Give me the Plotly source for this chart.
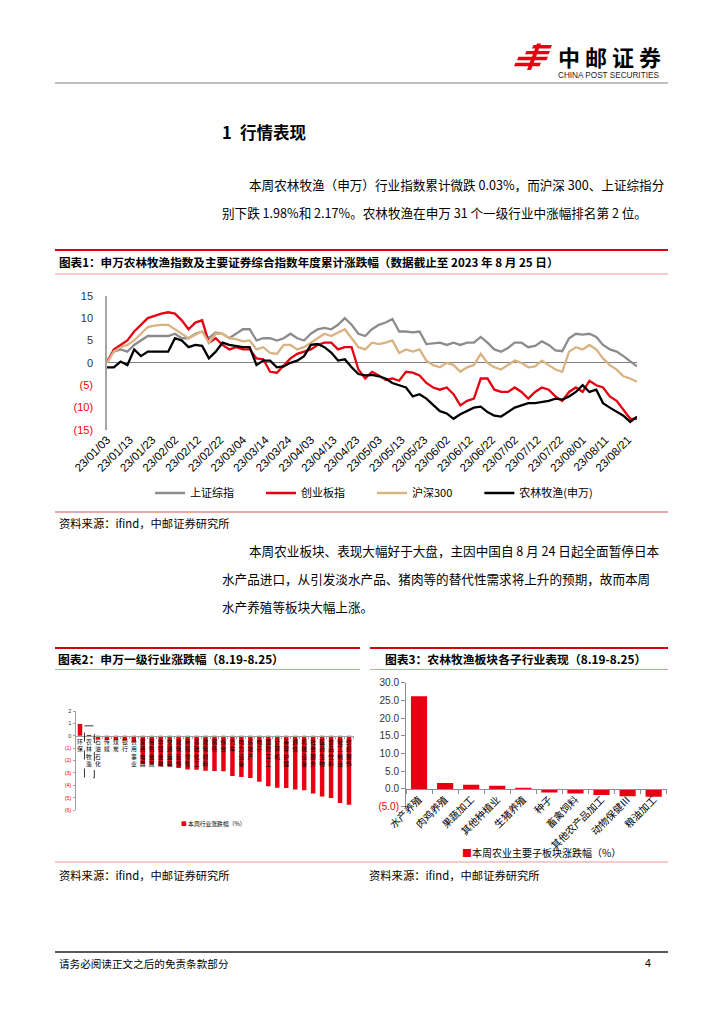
import plotly.graph_objects as go

W, H = 724, 1024
CJK = "Noto Sans CJK SC"
ARIAL = "Liberation Sans"
RED = "#e60012"
NEG = "#ff0000"

# ---------------- Chart 1 data: YTD cumulative change (%) ----------------
dates = [
    "2023-01-03", "2023-01-06", "2023-01-09", "2023-01-12", "2023-01-15", "2023-01-18", "2023-01-21", "2023-01-24", "2023-01-27", "2023-01-30",
    "2023-02-02", "2023-02-05", "2023-02-08", "2023-02-11", "2023-02-14", "2023-02-17", "2023-02-20", "2023-02-23", "2023-02-26",
    "2023-03-01", "2023-03-04", "2023-03-07", "2023-03-10", "2023-03-13", "2023-03-16", "2023-03-19", "2023-03-22", "2023-03-25", "2023-03-28", "2023-03-31",
    "2023-04-03", "2023-04-06", "2023-04-09", "2023-04-12", "2023-04-15", "2023-04-18", "2023-04-21", "2023-04-24", "2023-04-27", "2023-04-30",
    "2023-05-03", "2023-05-06", "2023-05-09", "2023-05-12", "2023-05-15", "2023-05-18", "2023-05-21", "2023-05-24", "2023-05-27", "2023-05-30",
    "2023-06-02", "2023-06-05", "2023-06-08", "2023-06-11", "2023-06-14", "2023-06-17", "2023-06-20", "2023-06-23", "2023-06-26", "2023-06-29",
    "2023-07-02", "2023-07-05", "2023-07-08", "2023-07-11", "2023-07-14", "2023-07-17", "2023-07-20", "2023-07-23", "2023-07-26", "2023-07-29",
    "2023-08-01", "2023-08-04", "2023-08-07", "2023-08-10", "2023-08-13", "2023-08-16", "2023-08-19", "2023-08-22", "2023-08-25",
]
sse = [
    0.5, 2.5, 3.0, 2.5, 4.0, 5.0, 6.0, 6.0, 6.0, 6.0,
    6.5, 5.5, 5.5, 6.5, 7.0, 5.5, 6.8, 6.5, 5.5,
    6.5, 7.5, 7.5, 5.0, 5.5, 5.5, 5.0, 5.5, 6.5, 5.5, 5.0,
    6.5, 7.5, 7.8, 7.5, 8.5, 10.0, 8.5, 6.5, 6.0, 7.5,
    8.5, 9.0, 9.8, 7.0, 7.0, 6.8, 7.0, 4.2, 4.3, 4.5,
    4.0, 4.5, 4.0, 4.5, 4.5, 5.8, 4.5, 3.0, 2.5, 3.3,
    4.5, 4.5, 3.5, 3.8, 4.8, 4.0, 2.8, 2.6, 5.5, 6.5,
    6.3, 6.5, 5.8, 4.0, 3.0, 2.5, 1.5, 0.3, -0.8,
]
chinext = [
    0.0, 3.0, 4.0, 5.0, 7.0, 8.5, 10.0, 10.5, 11.0, 11.3,
    11.0, 9.5, 7.5, 9.0, 9.5, 4.5, 5.5, 4.0, 3.0,
    3.5, 3.0, 3.0, 1.0, 0.8, -2.0, -2.2, -0.5, 1.0, 2.0, 2.5,
    3.0, 4.0, 4.5, 4.5, 3.0, 3.5, 3.5, -1.5, -3.5, -2.0,
    -2.8, -3.8, -3.5, -4.0, -2.0, -2.2, -2.8, -4.5, -5.5, -6.0,
    -5.5, -7.0, -9.5, -8.5, -8.0, -3.5, -3.5, -6.0, -6.5, -6.5,
    -5.5, -6.5, -8.0, -6.5, -5.5, -6.0, -7.5, -8.5, -6.5, -5.5,
    -6.5, -4.0, -5.0, -5.5, -7.5, -8.5, -10.5, -12.5, -12.5,
]
hs300 = [
    0.0, 2.5, 3.5, 4.0, 5.0, 6.5, 8.0, 8.3, 8.5, 8.5,
    7.5, 6.5, 5.5, 6.3, 7.0, 4.5, 6.5, 6.5, 5.5,
    5.3, 4.8, 5.0, 3.0, 3.5, 2.2, 2.0, 4.0, 4.0, 3.0, 3.5,
    4.5, 5.5, 6.5, 6.0, 6.8, 7.5, 5.5, 3.5, 3.0, 4.5,
    4.2, 4.5, 5.0, 2.2, 3.0, 2.5, 3.0, 0.5, -0.5, -1.0,
    0.0, -0.5, -2.0, -1.0, -0.5, 2.0, 0.0, -1.0, -1.5, -0.5,
    0.5, 0.0, -1.0, -0.8, 0.5, -0.5, -1.5, -2.0, 2.5, 3.5,
    3.0, 4.0, 3.0, 1.0, -0.5, -1.5, -3.0, -3.5, -4.2,
]
agri = [
    -1.0, -1.0, 0.3, -0.5, 3.0, 1.5, 2.5, 2.5, 2.5, 2.5,
    5.5, 5.0, 3.5, 4.0, 3.8, 1.0, 2.5, 4.5, 4.0,
    3.8, 3.5, 3.5, -0.5, 0.5, 0.5, -1.0, -0.8, 0.0, 0.5, 1.5,
    4.0, 4.2, 3.5, 2.3, 0.5, 0.8, -1.0, -2.5, -2.8, -2.7,
    -3.0, -3.5, -4.5, -5.0, -5.5, -7.5, -7.0, -8.0, -9.5, -10.8,
    -11.3, -12.5, -11.5, -10.8, -10.0, -9.8, -11.0, -11.8, -12.0, -11.0,
    -10.0, -9.5, -9.0, -9.0, -8.8, -8.5, -8.0, -8.2, -7.5, -6.5,
    -5.0, -6.5, -6.0, -9.0, -10.0, -11.0, -11.8, -13.2, -12.0,
]
tick_dates = [
    "2023-01-03", "2023-01-13", "2023-01-23", "2023-02-02", "2023-02-12", "2023-02-22",
    "2023-03-04", "2023-03-14", "2023-03-24", "2023-04-03", "2023-04-13", "2023-04-23",
    "2023-05-03", "2023-05-13", "2023-05-23", "2023-06-02", "2023-06-12", "2023-06-22",
    "2023-07-02", "2023-07-12", "2023-07-22", "2023-08-01", "2023-08-11", "2023-08-21",
]
tick_labels = [d[2:4] + "/" + d[5:7] + "/" + d[8:10] for d in tick_dates]
series_names = ["上证综指", "创业板指", "沪深300", "农林牧渔(申万)"]
series_colors = ["#8c8c8c", RED, "#d9b382", "#000000"]
y1_ticks = [15, 10, 5, 0, -5, -10, -15]

# ---------------- Chart 2 data: SW level-1 industries (%) ----------------
industries = [
    "环保", "农林牧渔", "石油石化", "传媒", "煤炭", "银行", "公用事业", "家用电器",
    "有色金属", "非银金融", "交通运输", "建筑装饰", "商贸零售", "基础化工", "建筑材料",
    "钢铁", "综合", "汽车", "电力设备", "房地产", "电子", "国防军工", "计算机",
    "美容护理", "通信", "机械设备", "社会服务", "医药生物", "食品饮料", "轻工制造", "纺织服饰",
]
ind_chg = [
    0.95, -0.03, -0.27, -0.35, -0.35, -0.37, -0.55, -2.30,
    -2.32, -2.45, -2.48, -2.60, -2.72, -2.75, -2.83,
    -2.85, -2.87, -3.26, -3.34, -3.42, -3.72, -4.08, -4.20,
    -4.22, -4.35, -4.40, -4.67, -4.90, -5.03, -5.43, -5.57,
]
y2_ticks = [2, 1, 0, -1, -2, -3, -4, -5, -6]

# ---------------- Chart 3 data: agriculture sub-industries (%) ----------------
subs = ["水产养殖", "肉鸡养殖", "果蔬加工", "其他种植业", "生猪养殖",
        "种子", "畜禽饲料", "其他农产品加工", "动物保健Ⅲ", "粮油加工"]
sub_chg = [26.2, 1.7, 1.2, 0.9, 0.3, -1.0, -1.3, -1.7, -2.1, -2.2]
y3_ticks = [30, 25, 20, 15, 10, 5, 0, -5]


def px(x):
    return x / W


def py(y):
    return 1 - y / H


def acct(v, fmt):
    s = format(abs(v), fmt)
    if v < 0:
        return "<span style='color:%s'>(%s)</span>" % (NEG, s)
    return s


fig = go.Figure()

legend_pad = ["\u3000\u3000", "\u3000\u3000", "\u3000\u3000", ""]
for name, vals, color, pad in zip(series_names, [sse, chinext, hs300, agri], series_colors, legend_pad):
    fig.add_trace(go.Scatter(x=dates, y=vals, name=name + pad, mode="lines",
                             line=dict(color=color, width=2.3),
                             xaxis="x", yaxis="y"))

fig.add_trace(go.Bar(x=industries, y=ind_chg, marker=dict(color=RED, line=dict(width=0)),
                     width=0.5, xaxis="x2", yaxis="y2", showlegend=False))
fig.add_trace(go.Bar(x=subs, y=sub_chg, marker=dict(color=RED, line=dict(width=0)),
                     width=0.62, xaxis="x3", yaxis="y3", showlegend=False))

# axis domains (pixel based)
y1_dom = [py(430), py(295.7)]
y2_dom = [py(810), py(711)]
y3_dom = [py(806.6), py(682.7)]
y2_rng = [-6, 2]
y3_rng = [-5, 30]
zero2 = y2_dom[0] + (0 - y2_rng[0]) / (y2_rng[1] - y2_rng[0]) * (y2_dom[1] - y2_dom[0])
zero3 = y3_dom[0] + (0 - y3_rng[0]) / (y3_rng[1] - y3_rng[0]) * (y3_dom[1] - y3_dom[0])

fig.update_layout(
    width=W, height=H, margin=dict(l=0, r=0, t=0, b=0, pad=0, autoexpand=False),
    paper_bgcolor="white", plot_bgcolor="rgba(0,0,0,0)",
    font=dict(family=CJK, color="#000"),
    bargap=0.4,
    xaxis=dict(domain=[px(107), px(637)], anchor="y", type="date", automargin=False,
               range=["2023-01-03", "2023-08-25"], tickmode="array",
               tickvals=tick_dates, ticktext=tick_labels, tickangle=-45,
               tickfont=dict(size=11.5, family=ARIAL, color="#000"),
               showgrid=False, zeroline=False, showline=False, ticks=""),
    yaxis=dict(domain=y1_dom, anchor="x", range=[-15, 15], tickmode="array", automargin=False,
               tickvals=y1_ticks, ticktext=[acct(v, "g") for v in y1_ticks],
               tickfont=dict(size=11, family=ARIAL, color="#333"),
               showgrid=False, zeroline=True, zerolinecolor="#808080", zerolinewidth=1,
               showline=True, linecolor="#a6a6a6", linewidth=1.5, ticks="",
               ticklabelstandoff=10),
    xaxis2=dict(domain=[px(75.5), px(353.5)], anchor="free", position=zero2, automargin=False,
                tickmode="array", tickvals=industries,
                ticktext=["<br>".join(list(n)) for n in industries],
                tickangle=0, tickfont=dict(size=5.8, family=CJK, color="#000"),
                showline=True, linecolor="#a0a0a0", linewidth=1,
                ticks="outside", ticklen=2, tickcolor="#a0a0a0", tickson="boundaries",
                showgrid=False, zeroline=False),
    yaxis2=dict(domain=y2_dom, anchor="x2", range=y2_rng, tickmode="array", automargin=False,
                tickvals=y2_ticks, ticktext=[acct(v, "g") for v in y2_ticks],
                tickfont=dict(size=5.5, family=ARIAL, color="#333"),
                showline=True, linecolor="#a0a0a0", linewidth=1,
                ticks="outside", ticklen=2, tickcolor="#a0a0a0",
                showgrid=False, zeroline=False),
    xaxis3=dict(domain=[px(406), px(666.7)], anchor="free", position=zero3, automargin=False,
                tickangle=-45, tickfont=dict(size=10, family=CJK, color="#000"),
                showline=True, linecolor="#8c8c8c", linewidth=1,
                ticks="outside", ticklen=4, tickcolor="#8c8c8c", tickson="boundaries",
                showgrid=False, zeroline=False),
    yaxis3=dict(domain=y3_dom, anchor="x3", range=y3_rng, tickmode="array", automargin=False,
                tickvals=y3_ticks, ticktext=[acct(v, ".1f") for v in y3_ticks],
                tickfont=dict(size=10, family=ARIAL, color="#333"),
                showline=True, linecolor="#8c8c8c", linewidth=1,
                ticks="outside", ticklen=4, tickcolor="#8c8c8c",
                showgrid=False, zeroline=False),
    legend=dict(orientation="h", x=px(150), y=py(493), xanchor="left", yanchor="middle",
                font=dict(size=11, family=CJK, color="#000"), bgcolor="rgba(0,0,0,0)",
                itemwidth=30, traceorder="normal"),
)

# ---------------- page furniture ----------------
def line(x0, x1, y, color, width):
    return dict(type="line", xref="paper", yref="paper", x0=px(x0), x1=px(x1),
                y0=py(y), y1=py(y), line=dict(color=color, width=width))


def poly(pts, color):
    d = "M " + " L ".join("%.5f,%.5f" % (px(x), py(y)) for x, y in pts) + " Z"
    return dict(type="path", xref="paper", yref="paper", path=d,
                fillcolor=color, line=dict(width=0))


shapes = [
    line(55, 668, 83, "#808080", 1),
    line(55, 668, 250, "#d7000f", 2),
    line(55, 668, 274, "#ec9a9a", 1),
    line(55, 668, 512, "#d9534f", 1),
    line(55, 360, 648, "#d7000f", 2),
    line(370, 668, 648, "#d7000f", 2),
    line(55, 360, 669.5, "#ec9a9a", 1),
    line(370, 668, 669.5, "#ec9a9a", 1),
    line(55, 668, 862, "#ec9a9a", 1.2),
    line(55, 668, 952, "#222222", 1.5),
    # logo
    poly([(533.5, 45), (552, 45), (550.5, 48.5), (532, 48.5)], RED),
    poly([(526.5, 51), (550, 51), (548.5, 54.3), (525, 54.3)], RED),
    poly([(518.5, 56.7), (548, 56.7), (546.5, 60.2), (517, 60.2)], RED),
    poly([(515.5, 62.7), (541, 62.7), (539.5, 66.2), (514, 66.2)], RED),
    poly([(537, 43.5), (541, 43.5), (531, 70), (527, 70)], RED),
    # dashed box around 农林牧渔
    dict(type="rect", xref="x2", yref="y2",
         x0=industries.index("农林牧渔") - 0.5, x1=industries.index("农林牧渔") + 0.6,
         y0=0.8, y1=-3.4, line=dict(color="#000", width=0.8, dash="dash")),
]


def txt(x, y, s, size, bold=False, color="#000", anchor="left", family=CJK):
    return dict(x=px(x), y=py(y), xref="paper", yref="paper",
                text=("<b>%s</b>" % s) if bold else s, showarrow=False,
                xanchor=anchor, yanchor="middle", align=anchor, borderpad=0,
                font=dict(size=size, color=color, family=family))


src = "资料来源：ifind，中邮证券研究所"
annotations = [
    txt(557, 56, "中 邮 证 券", 22, bold=True),
    txt(557, 75.5, "CHINA POST SECURITIES", 8.2, color="#222", family=ARIAL),
    txt(221, 132, "1\u2002行情表现", 16.5, bold=True),
    txt(248, 184, "本周农林牧渔（申万）行业指数累计微跌 0.03%，而沪深 300、上证综指分", 12.6),
    txt(221, 212, "别下跌 1.98%和 2.17%。农林牧渔在申万 31 个一级行业中涨幅排名第 2 位。", 12.6),
    txt(58, 262, "图表1：申万农林牧渔指数及主要证券综合指数年度累计涨跌幅（数据截止至 2023 年 8 月 25 日）", 11.6, bold=True),
    txt(58, 523, src, 11.3),
    txt(248, 550, "本周农业板块、表现大幅好于大盘，主因中国自 8 月 24 日起全面暂停日本", 12.6),
    txt(221, 578, "水产品进口，从引发淡水产品、猪肉等的替代性需求将上升的预期，故而本周", 12.6),
    txt(221, 606, "水产养殖等板块大幅上涨。", 12.6),
    txt(57, 658, "图表2：申万一级行业涨跌幅（8.19-8.25）", 11.8, bold=True),
    txt(384, 658, "图表3：农林牧渔板块各子行业表现（8.19-8.25）", 11.8, bold=True),
    txt(180, 823, "<span style='color:%s'>■</span> 本周行业涨跌幅（%%）" % RED, 5.8),
    txt(461, 852, "<span style='color:%s'>■</span>本周农业主要子板块涨跌幅（%%）" % RED, 10),
    txt(58, 875, src, 11.3),
    txt(368, 875, src, 11.3),
    txt(58, 963, "请务必阅读正文之后的免责条款部分", 10.6),
    txt(652, 963, "4", 10.6, anchor="right", family=ARIAL),
]

fig.update_layout(shapes=shapes, annotations=annotations)

fig.write_html("out.html", config={"displayModeBar": False},
               post_script="document.body.style.margin='0';")
